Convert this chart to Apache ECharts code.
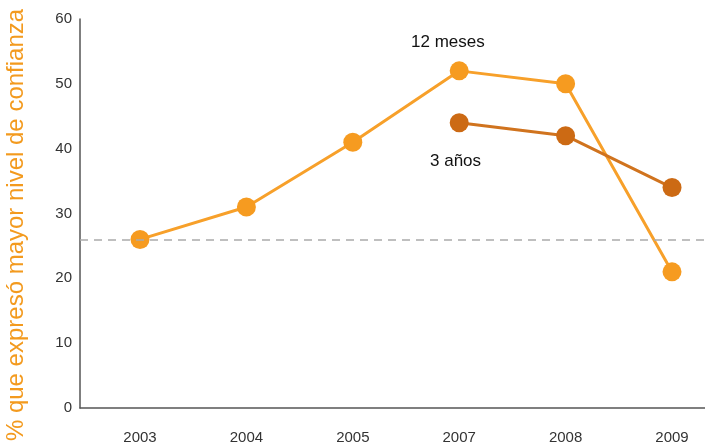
<!DOCTYPE html>
<html><head><meta charset="utf-8">
<script src="https://cdn.jsdelivr.net/npm/echarts@6/dist/echarts.min.js"></script>
<style>html,body{margin:0;padding:0;background:#fff}#c{width:705px;height:447px}</style>
</head><body><div id="c"></div>
<script>
var categories = ['2003','2004','2005','2007','2008','2009'];
var meses12 = [26, 31, 41, 52, 50, 21];
var anos3 = [null, null, null, 44, 42, 34];
var refLine = 26;
var yTitle = '% que expresó mayor nivel de confianza';

function toPairs(arr){ var out=[]; arr.forEach(function(v,i){ if(v!==null) out.push([i,v]); }); return out; }

var chart = echarts.init(document.getElementById('c'));
chart.setOption({
  animation:false,
  grid:{left:80, right:0, top:19, bottom:39, containLabel:false, outerBoundsMode:'none'},
  xAxis:{
    type:'value', min:-0.564, max:5.31,
    splitLine:{show:false},
    axisLine:{show:true, onZero:false, lineStyle:{color:'#555', width:1.5}},
    axisTick:{show:false},
    axisLabel:{customValues:[0,1,2,3,4,5], formatter:function(v){return categories[Math.round(v)];},
      color:'#333', fontSize:15, fontFamily:'Liberation Sans, Arial', margin:22}
  },
  yAxis:{
    type:'value', min:0, max:60, interval:10,
    splitLine:{show:false},
    axisLine:{show:true, onZero:false, lineStyle:{color:'#555', width:1.5}},
    axisTick:{show:false},
    axisLabel:{color:'#333', fontSize:15, fontFamily:'Liberation Sans, Arial', margin:8}
  },
  series:[
    {name:'12 meses', type:'line', data:toPairs(meses12), symbol:'circle', symbolSize:19,
      lineStyle:{color:'#f7a02a', width:3}, itemStyle:{color:'#f69b20'},
      markLine:{silent:true, symbol:'none', label:{show:false},
        lineStyle:{color:'#aaa', type:[8,6], width:1.5},
        data:[{yAxis:refLine}]}
    },
    {name:'3 años', type:'line', data:toPairs(anos3), symbol:'circle', symbolSize:19,
      lineStyle:{color:'#d0731e', width:3}, itemStyle:{color:'#cc6a14'}}
  ],
  graphic:[
    {type:'text', x:16, y:225, rotation:Math.PI/2,
      style:{text:yTitle, fill:'#f39a1e', fontSize:24, fontFamily:'Liberation Sans, Arial', align:'center', verticalAlign:'middle'}},
    {type:'text', left:411, top:34, style:{text:'12 meses', fill:'#111', fontSize:17, fontFamily:'Liberation Sans, Arial'}},
    {type:'text', left:430, top:153, style:{text:'3 años', fill:'#111', fontSize:17, fontFamily:'Liberation Sans, Arial'}}
  ]
});
</script></body></html>
